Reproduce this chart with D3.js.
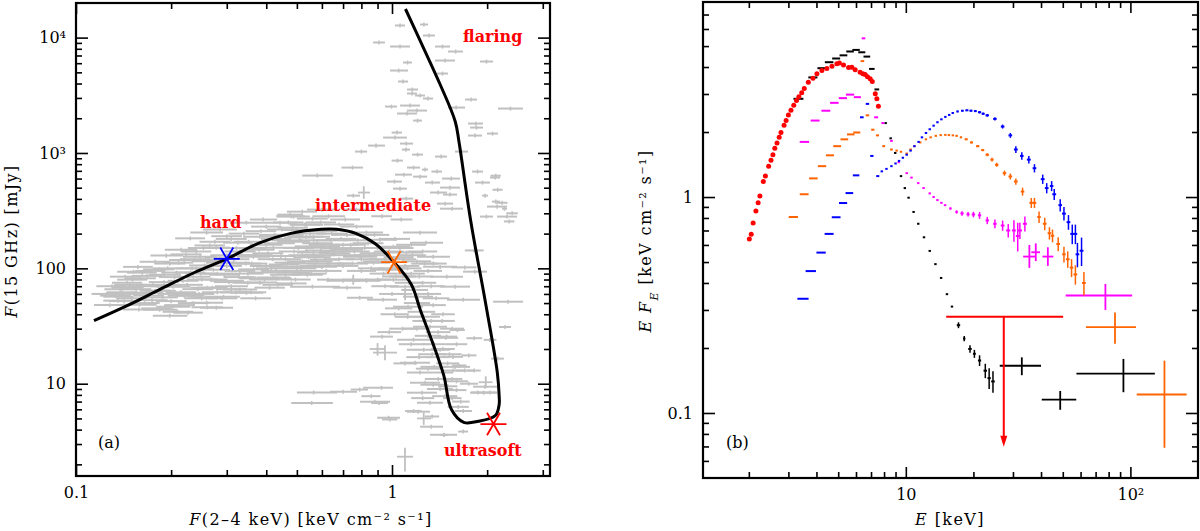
<!DOCTYPE html>
<html>
<head>
<meta charset="utf-8">
<script src="https://cdn.jsdelivr.net/npm/d3@7"></script>
<style>
  body { margin: 0; background: #fff; }
  text { font-family: "DejaVu Serif", serif; }
</style>
</head>
<body>
<div id="chart"></div>
<script>
// ---------- panel (a): radio vs X-ray flux ----------
const aXMajor = [0.1, 1];
const aXLabels = ["0.1", "1"];
const aXMinor = [0.2, 0.3, 0.4, 0.5, 0.6, 0.7, 0.8, 0.9, 2, 3];
const aYMajor = [10, 100, 1000, 10000];
const aYLabels = ["10", "100", "10³", "10⁴"];
const aYMinor = [2, 3, 4, 5, 6, 7, 8, 9, 20, 30, 40, 50, 60, 70, 80, 90,
  200, 300, 400, 500, 600, 700, 800, 900, 2000, 3000, 4000, 5000, 6000, 7000, 8000, 9000];

// track through the states (x = 2-4 keV flux, y = 15 GHz flux)
const trackX = [0.114, 0.144, 0.185, 0.238, 0.300, 0.383, 0.478, 0.597, 0.668, 0.768, 0.883, 1.015,
  1.15, 1.233, 1.341, 1.458, 1.542, 1.686, 1.874, 2.124, 2.183, 2.183, 2.153, 1.981, 1.772, 1.629,
  1.585, 1.419, 1.268, 1.103];
const trackY = [35.2, 47.0, 66.0, 92.5, 121, 167, 201, 218, 218, 201, 164, 113,
  72.9, 42.5, 23.1, 11.8, 5.97, 4.63, 4.72, 5.30, 6.61, 7.84, 12.6, 48.6, 264, 1250,
  1876, 3944, 7762, 17700];

const stateNames = ["hard", "intermediate", "ultrasoft"];
const stateX = [0.30, 1.015, 2.095];
const stateY = [121, 113, 4.47];
const stateColors = ["#0000ff", "#ff6400", "#ff0000"];

// gray monitoring points: [x, y, xlo, xhi]
const grayPts = [
  [0.136,52.5,0.122,0.152],[0.146,68.0,0.130,0.163],[0.151,79.8,0.135,0.168],[0.162,91.8,0.145,0.180],
  [0.157,103,0.141,0.175],[0.178,114,0.159,0.198],[0.193,129,0.172,0.218],[0.215,145,0.191,0.242],
  [0.230,182,0.206,0.256],[0.259,204,0.230,0.292],[0.286,217,0.252,0.323],[0.391,265,0.355,0.433],
  [0.476,292,0.433,0.523],[0.52,310,0.465,0.579],[0.442,249,0.391,0.500],[0.184,43.8,0.163,0.209],
  [0.198,38.9,0.175,0.225],[0.226,41.3,0.203,0.252],[0.259,50.4,0.230,0.292],[0.293,56.8,0.260,0.330],
  [0.330,65.4,0.292,0.374],[0.382,75.2,0.338,0.433],[0.421,83.1,0.374,0.476],[0.488,91.8,0.433,0.550],
  [0.536,103,0.476,0.605],[0.614,119,0.550,0.685],[0.627,79.8,0.579,0.685],[0.167,61.5,0.148,0.189],
  [0.203,69.4,0.180,0.230],[0.235,84.7,0.209,0.266],[0.272,97.4,0.242,0.307],[0.315,112,0.279,0.355],
  [0.364,126,0.323,0.411],[0.421,151,0.374,0.476],[0.488,170,0.433,0.550],[0.564,188,0.500,0.637],
  [0.325,167,0.292,0.363],[0.382,188,0.338,0.433],[0.448,217,0.402,0.500],[0.536,239,0.476,0.605],
  [0.211,112,0.189,0.235],[0.247,126,0.218,0.279],[0.278,151,0.252,0.307],[0.152,93.6,0.135,0.172],
  [0.143,84.7,0.128,0.159],[0.136,56.8,0.122,0.152],[0.159,48.4,0.141,0.180],[0.203,46.5,0.180,0.230],
  [0.278,45.6,0.247,0.314],[0.346,61.5,0.307,0.391],[0.464,103,0.411,0.523],[0.564,137,0.500,0.637],
  [0.637,154,0.592,0.685],[0.488,281,0.433,0.550],[0.60,323,0.538,0.670],[0.346,249,0.307,0.391],
  [0.536,151,0.476,0.605],[0.60,103,0.523,0.670],[0.56,69.4,0.476,0.685],
  [0.175,72,0.155,0.198],[0.19,88,0.17,0.215],[0.24,100,0.215,0.27],[0.26,115,0.232,0.292],
  [0.30,130,0.266,0.338],[0.33,140,0.295,0.37],[0.36,150,0.32,0.40],[0.40,160,0.355,0.45],
  [0.43,180,0.385,0.48],[0.47,195,0.42,0.525],[0.50,215,0.45,0.56],[0.55,200,0.49,0.62],
  [0.58,165,0.52,0.65],[0.52,130,0.47,0.58],[0.46,120,0.41,0.515],[0.40,105,0.355,0.45],
  [0.35,90,0.31,0.39],[0.30,78,0.265,0.34],[0.26,68,0.23,0.29],[0.22,58,0.195,0.25],
  [0.25,55,0.22,0.28],[0.31,70,0.275,0.35],[0.37,82,0.33,0.415],[0.43,95,0.385,0.48],
  [0.50,110,0.445,0.56],[0.57,125,0.51,0.64],[0.65,140,0.59,0.72],[0.70,160,0.63,0.78],
  [0.68,120,0.61,0.76],[0.75,110,0.67,0.84],[0.80,95,0.72,0.89],[0.85,130,0.76,0.95],
  [0.90,150,0.80,1.0],[0.95,120,0.85,1.06],[1.05,125,0.94,1.17],[1.10,105,0.99,1.22],
  [1.15,90,1.04,1.27],[1.20,115,1.08,1.33],[1.25,140,1.12,1.39],[1.30,95,1.17,1.44],
  [1.02,180,0.91,1.14],[0.88,195,0.79,0.98],[0.78,175,0.70,0.87],[1.15,160,1.03,1.28],
  [1.35,110,1.22,1.49],[1.25,75,1.13,1.38],[1.30,60,1.18,1.43],[1.35,48,1.23,1.48],
  [1.33,35,1.21,1.46],[1.40,28,1.28,1.53],[1.36,22,1.25,1.48],[1.45,20,1.33,1.58],
  [1.40,17,1.29,1.52],[1.50,15,1.38,1.63],[1.45,12.5,1.35,1.56],[1.55,11,1.44,1.67],
  [1.50,9.5,1.40,1.61],[1.60,8.8,1.49,1.72],[1.55,7.5,1.45,1.66],[1.65,7.0,1.55,1.76],
  [1.20,30,1.09,1.32],[1.12,38,1.02,1.23],[1.05,45,0.95,1.16],[1.00,60,0.91,1.10],
  [0.95,70,0.86,1.05],[0.90,80,0.82,0.99],[1.08,85,0.98,1.19],[1.45,40,1.33,1.58],
  [1.55,30,1.42,1.69],[1.60,22,1.48,1.73],[1.70,13,1.59,1.82],[1.75,10,1.64,1.87],
  [1.68,5.8,1.58,1.79],
  [0.711,265,0.637,0.792],[0.772,230,0.685,0.871],[0.830,204,0.737,0.937],[0.916,177,0.810,1.037],
  [1.01,154,0.897,1.140],[1.11,137,0.986,1.253],[1.227,204,1.083,1.388],[1.28,167,1.140,1.450],
  [1.35,126,1.200,1.526],[1.42,103,1.253,1.606],[1.49,84.7,1.319,1.678],[0.718,145,0.637,0.810],
  [0.792,126,0.700,0.897],[0.874,112,0.775,0.986],[0.96,97.4,0.852,1.083],[0.754,79.8,0.685,0.834],
  [1.01,79.8,0.897,1.140],[1.10,69.4,0.986,1.227],[1.21,56.8,1.083,1.348],[1.124,46.5,1.007,1.253],
  [1.26,38.1,1.115,1.419],[1.32,31.2,1.166,1.493],[0.937,53.5,0.834,1.037],[0.93,25.6,0.852,1.007],
  [1.17,24.1,1.037,1.319],[1.26,19.7,1.115,1.419],[1.183,15.2,1.06,1.319],[1.227,12.5,1.115,1.348],
  [1.272,10.2,1.140,1.419],[0.926,9.23,0.810,1.007],[0.882,6.98,0.792,0.986],[1.244,8.36,1.115,1.388],
  [1.319,6.84,1.200,1.450],[1.21,5.72,1.115,1.319],[0.975,5.07,0.897,1.060],[1.46,3.61,1.319,1.606],
  [1.583,69.4,1.419,1.766],[1.68,53.5,1.493,1.899],[2.33,51.4,2.088,2.598],[1.83,93.6,1.678,1.998],
  [1.95,8.36,1.766,2.15],[1.97,9.42,1.805,2.15],[2.15,343,1.998,2.312],[2.31,281,2.15,2.487],
  [1.49,25.6,1.388,1.606],[1.42,19.7,1.319,1.526],[1.583,14.0,1.419,1.766],[0.70,8.52,0.637,0.775],
  [1.56,17.1,1.45,1.678],[1.33,4.24,1.227,1.45],
  [1.06,12740,1.022,1.099],[1.262,12990,1.227,1.30],[1.31,10430,1.253,1.368],[0.909,9070,0.871,0.950],
  [1.06,8370,0.986,1.14],[1.445,8370,1.368,1.526],[1.59,7575,1.504,1.678],[1.12,6081,1.083,1.157],
  [1.472,6330,1.368,1.583],[1.99,6204,1.899,2.088],[1.05,5185,0.986,1.124],[1.445,4882,1.388,1.504],
  [1.083,4163,1.045,1.124],[1.16,3548,1.115,1.209],[1.157,3275,1.115,1.200],[1.227,3148,1.183,1.272],
  [1.30,2965,1.253,1.348],[1.78,2905,1.702,1.858],[0.996,2526,0.950,1.037],[1.14,2577,1.06,1.227],
  [1.20,2332,1.115,1.291],[1.115,2197,1.037,1.20],[1.595,2476,1.504,1.702],[2.37,2427,2.165,2.598],
  [1.205,1910,1.166,1.244],[1.84,1799,1.740,1.941],[1.85,1661,1.766,1.941],[1.037,1503,0.997,1.075],
  [1.022,1360,0.937,1.115],[1.83,1416,1.740,1.927],[2.08,1473,1.998,2.165],[1.11,1206,1.06,1.166],
  [0.89,1159,0.84,0.950],[1.107,1070,1.075,1.14],[1.66,1028,1.583,1.740],[0.80,1028,0.764,0.834],
  [1.205,968,1.157,1.253],[1.43,931,1.368,1.493],[1.04,859,0.997,1.083],[0.75,747,0.692,0.81],
  [1.17,747,1.115,1.227],[1.272,718,1.244,1.30],[1.388,690,1.333,1.44],[1.865,690,1.792,1.941],
  [1.09,649,1.022,1.157],[1.227,624,1.166,1.291],[1.54,600,1.44,1.641],[2.12,612,2.042,2.197],
  [1.018,565,0.964,1.075],[1.34,554,1.272,1.419],[1.934,554,1.831,2.042],[1.526,501,1.419,1.641],
  [1.06,491,1.007,1.115],[1.40,454,1.319,1.493],[0.754,427,0.72,0.792],[1.526,436,1.45,1.606],
  [1.97,427,1.927,2.013],[1.11,402,1.06,1.166],[1.472,364,1.388,1.56],[2.13,379,2.073,2.197],
  [1.55,329,1.419,1.678],[2.27,329,2.229,2.312],[1.99,281,1.899,2.088],
  [1.70,102,1.54,1.85],[1.82,143,1.70,1.95],[1.61,29.2,1.52,1.70],[1.82,24.8,1.72,1.93],
  [2.04,24.0,1.95,2.14],[1.75,17.6,1.66,1.85],[1.87,8.4,1.78,1.96],[2.04,8.4,1.95,2.14],
  [1.82,13.0,1.73,1.91],[1.63,14.4,1.55,1.72],[2.16,16.5,2.06,2.26],[0.565,8.4,0.50,0.67],
  [0.557,6.8,0.48,0.65],[0.79,8.9,0.74,0.84],[0.86,7.8,0.80,0.92],[0.91,6.8,0.86,0.97],
  [0.985,4.9,0.93,1.04],[1.17,5.8,1.10,1.24],[1.34,5.2,1.27,1.41],[1.46,3.6,1.42,1.50],
  [1.68,3.85,1.62,1.74],[2.28,31,2.18,2.38],[2.40,300,2.30,2.50],[2.35,255,2.26,2.44],
  [2.23,370,2.14,2.32],[2.16,480,2.08,2.24],[2.13,635,2.05,2.21],
  [0.63,110,0.54,0.75],[0.70,78,0.62,0.79],[0.83,78,0.75,0.92],[0.79,55.6,0.72,0.87],
  [0.72,68,0.65,0.80],[0.595,143,0.53,0.67],[0.535,188,0.47,0.61],[0.63,283,0.56,0.71],
  [0.48,283,0.43,0.53],[0.58,637,0.52,0.65],[0.77,323,0.70,0.85],[0.93,283,0.86,1.00],
  [1.07,265,0.99,1.16],
  // dense hard-state band
  [0.125,60,0.112,0.14],[0.13,70,0.116,0.145],[0.14,62,0.125,0.157],[0.145,75,0.13,0.162],
  [0.15,55,0.134,0.168],[0.155,66,0.139,0.173],[0.16,82,0.143,0.179],[0.165,50,0.148,0.184],
  [0.17,58,0.152,0.19],[0.172,95,0.154,0.192],[0.18,45,0.161,0.201],[0.185,64,0.165,0.207],
  [0.19,76,0.17,0.212],[0.195,100,0.175,0.218],[0.2,52,0.179,0.224],[0.205,84,0.183,0.229],
  [0.21,42,0.188,0.235],[0.215,62,0.192,0.24],[0.22,118,0.197,0.246],[0.225,72,0.201,0.252],
  [0.23,92,0.206,0.257],[0.235,50,0.21,0.263],[0.24,140,0.215,0.268],[0.245,60,0.219,0.274],
  [0.25,80,0.224,0.28],[0.255,106,0.228,0.285],[0.26,46,0.232,0.291],[0.265,158,0.237,0.296],
  [0.27,68,0.242,0.302],[0.28,90,0.25,0.313],[0.285,124,0.255,0.319],[0.29,55,0.259,0.324],
  [0.3,105,0.268,0.335],[0.305,76,0.273,0.341],[0.31,180,0.277,0.347],[0.32,62,0.286,0.358],
  [0.33,95,0.295,0.369],[0.335,130,0.3,0.375],[0.34,200,0.304,0.38],[0.35,75,0.313,0.391],
  [0.36,110,0.322,0.403],[0.37,55,0.331,0.414],[0.38,145,0.34,0.425],[0.39,92,0.349,0.436],
  [0.4,230,0.358,0.447],[0.41,68,0.367,0.458],[0.42,120,0.376,0.47],[0.43,82,0.385,0.481],
  [0.44,165,0.394,0.492],[0.455,108,0.407,0.509],[0.47,250,0.42,0.525],[0.48,74,0.43,0.537],
  [0.49,140,0.438,0.548],[0.5,95,0.447,0.559],[0.51,185,0.456,0.57],[0.52,115,0.465,0.581],
  [0.54,88,0.483,0.604],[0.55,155,0.492,0.615],[0.56,270,0.5,0.626],[0.57,105,0.51,0.637],
  [0.59,130,0.528,0.66],[0.6,210,0.537,0.671],[0.62,95,0.555,0.693],[0.64,175,0.572,0.715],
  [0.66,135,0.59,0.738],[0.68,240,0.608,0.76],[0.7,105,0.626,0.783],[0.72,195,0.644,0.805],
  [0.128,48,0.114,0.143],[0.133,58,0.119,0.149],[0.138,66,0.123,0.155],[0.142,52,0.127,0.159],
  [0.148,72,0.132,0.166],[0.153,60,0.137,0.171],[0.158,44,0.141,0.177],[0.163,70,0.146,0.182],
  [0.168,86,0.15,0.188],[0.174,53,0.155,0.195],[0.178,64,0.159,0.199],[0.183,98,0.163,0.205],
  [0.188,56,0.168,0.21],[0.193,70,0.172,0.216],[0.198,110,0.177,0.222],[0.203,60,0.181,0.227],
  [0.208,92,0.186,0.233],[0.213,48,0.19,0.238],[0.218,78,0.195,0.244],[0.223,132,0.199,0.25],
  [0.228,58,0.204,0.255],[0.233,100,0.208,0.261],[0.238,120,0.213,0.266],[0.243,66,0.217,0.272],
  [0.248,90,0.222,0.278],[0.253,150,0.226,0.283],[0.258,56,0.231,0.289],[0.263,118,0.235,0.294],
  [0.268,80,0.24,0.3],[0.275,170,0.246,0.308],[0.28,62,0.25,0.313],[0.288,112,0.258,0.322],
  [0.295,88,0.264,0.33],[0.3,190,0.268,0.335],[0.31,66,0.277,0.347],[0.316,120,0.282,0.354],
  [0.322,150,0.288,0.36],[0.328,84,0.293,0.367],[0.345,110,0.308,0.386],[0.352,170,0.315,0.394],
  [0.358,62,0.32,0.4],[0.365,98,0.326,0.408],[0.375,130,0.335,0.419],[0.385,210,0.344,0.43],
  [0.395,80,0.353,0.442],[0.405,135,0.362,0.453],[0.415,100,0.371,0.464],[0.425,195,0.38,0.475],
  [0.435,72,0.389,0.486],[0.445,128,0.398,0.497],[0.46,88,0.411,0.514],[0.465,175,0.416,0.52],
  [0.475,112,0.425,0.531],[0.485,225,0.434,0.542],[0.495,80,0.443,0.553],[0.505,150,0.452,0.565],
  [0.515,100,0.46,0.576],[0.53,240,0.474,0.592],[0.545,125,0.487,0.609],[0.555,90,0.496,0.62],
  [0.565,175,0.505,0.632],[0.58,115,0.519,0.648],[0.595,250,0.532,0.665],[0.61,160,0.545,0.682],
  [0.625,110,0.559,0.699],[0.645,200,0.577,0.721],[0.665,150,0.595,0.743],[0.69,180,0.617,0.771],
  [0.71,130,0.635,0.794],[0.74,160,0.66,0.83],[0.76,140,0.68,0.85],[0.8,120,0.715,0.895],
  [0.84,165,0.75,0.94],[0.88,135,0.79,0.98],
  // dense region between the two branches
  [0.82,150,0.74,0.91],[0.86,100,0.78,0.95],[0.9,115,0.81,1.0],[0.94,90,0.85,1.04],
  [0.98,140,0.88,1.09],[1.0,100,0.9,1.11],[1.03,85,0.93,1.14],[1.06,150,0.96,1.17],
  [1.08,120,0.98,1.19],[1.12,100,1.01,1.24],[1.13,75,1.02,1.25],[1.16,130,1.05,1.28],
  [1.18,65,1.07,1.3],[1.2,50,1.09,1.32],[1.22,85,1.1,1.35],[1.24,42,1.12,1.37],
  [1.27,110,1.15,1.4],[1.28,35,1.16,1.41],[1.3,26,1.18,1.43],[1.33,70,1.2,1.47],
  [1.34,18,1.21,1.48],[1.36,14,1.23,1.5],[1.38,55,1.25,1.52],[1.4,11,1.27,1.54],
  [1.42,9,1.29,1.56],[1.44,35,1.31,1.58],[1.47,7.8,1.34,1.61],[1.48,25,1.35,1.62],
  [1.52,18,1.39,1.66],[1.56,13,1.43,1.7],[1.6,10.5,1.47,1.74],[1.62,6.3,1.5,1.75],
  [1.08,30,0.98,1.19],[1.02,40,0.92,1.13],[1.15,22,1.05,1.27],[1.22,17,1.11,1.34],
  [1.3,13.5,1.19,1.42],[1.35,9.8,1.23,1.48],[0.98,28,0.9,1.07],[1.1,15,1.01,1.2],
  [1.25,7.5,1.15,1.36]
];
const grayYErr = 0.04;   // typical relative radio error
// gray points with visible radio errors: [x, y, xlo, xhi, ylo, yhi]
const grayCrosses = [
  [1.099, 2.33, 1.037, 1.166, 1.73, 2.79], [0.814, 454, 0.78, 0.852, 400, 515],
  [0.95, 18.6, 0.871, 1.037, 16.0, 21.5], [0.754, 79.8, 0.70, 0.81, 72, 88],
  [1.98, 10.3, 1.88, 2.08, 9.2, 11.6], [1.26, 5.0, 1.2, 1.33, 4.4, 5.6],
  [1.10, 60, 1.04, 1.16, 53, 67], [0.90, 20, 0.85, 0.95, 17.5, 22.5]
];

// ---------- panel (b): spectra E*F_E ----------
const bXMajor = [10, 100];
const bXLabels = ["10", "10²"];
const bXMinor = [2, 3, 4, 5, 6, 7, 8, 9, 20, 30, 40, 50, 60, 70, 80, 90];
const bYMajor = [0.1, 1];
const bYLabels = ["0.1", "1"];
const bYMinor = [0.06, 0.07, 0.08, 0.09, 0.2, 0.3, 0.4, 0.5, 0.6, 0.7, 0.8, 0.9, 2, 3, 4, 5, 6, 7];

// ultrasoft spectrum (filled dots): energy, flux
const redE = [2.01, 2.05, 2.09, 2.15, 2.20, 2.24, 2.32, 2.37, 2.45, 2.51, 2.56, 2.61, 2.67, 2.73, 2.78, 2.87,
  2.93, 3.00, 3.08, 3.17, 3.26, 3.34, 3.44, 3.53, 3.68, 3.86, 4.02, 4.23, 4.45, 4.69, 4.93, 5.06, 5.28,
  5.56, 5.75, 5.95, 6.26, 6.44, 6.59, 6.75, 6.94, 7.09, 7.31, 7.43, 7.55];
const redF = [0.639, 0.672, 0.758, 0.862, 0.94, 1.01, 1.18, 1.25, 1.39, 1.48, 1.57, 1.68, 1.78, 1.89, 1.99, 2.15,
  2.26, 2.40, 2.52, 2.66, 2.80, 2.91, 3.04, 3.18, 3.40, 3.55, 3.72, 3.85, 3.94, 4.03, 4.14, 4.18, 4.09,
  3.98, 3.99, 3.88, 3.78, 3.72, 3.69, 3.61, 3.53, 3.43, 3.01, 2.85, 2.63];
// upper limit: [E, F, Elo, Ehi, Fbottom]
const redLimit = [27.3, 0.279, 15.13, 50.2, 0.0697];

// other spectra rows: [E, F, dE, dF]
const blackPts = [
  [3.33,2.85,0.17,0],[3.86,3.58,0.18,0],[4.23,3.95,0.19,0],[4.56,4.21,0.2,0],[4.90,4.38,0.2,0],
  [5.28,4.53,0.21,0],[5.65,4.72,0.22,0],[6.01,4.80,0.23,0],[6.37,4.68,0.23,0],[6.71,4.47,0.23,0],
  [7.06,3.92,0.2,0],[7.43,3.15,0.18,0],[8.13,2.20,0.1,0],[8.56,1.87,0.1,0],[8.97,1.60,0.1,0],
  [9.52,1.25,0.1,0],[9.90,1.10,0.1,0],[10.29,0.993,0.11,0],[10.83,0.853,0.11,0],[11.36,0.752,0.12,0],
  [12.05,0.651,0.12,0],[12.78,0.563,0.13,0],[13.55,0.489,0.14,0],[14.36,0.422,0.15,0],[15.25,0.355,0.16,0],
  [16.05,0.311,0.17,0],[17.16,0.255,0.3,0.008],[18.20,0.221,0.2,0.006],[19.31,0.198,0.35,0.008],
  [20.2,0.188,0.3,0.008],[21.3,0.175,0.35,0.01],[22.59,0.157,0.4,0.012],[23.5,0.145,0.4,0.016],
  [24.44,0.14,0.45,0.016]
];
const magentaPts = [
  [3.54,1.80,0.17,0],[3.95,2.26,0.18,0],[4.41,2.51,0.2,0],[4.81,2.73,0.21,0],[5.25,2.87,0.22,0],
  [5.65,2.98,0.24,0],[6.09,2.90,0.22,0],[6.48,5.43,0.12,0],[7.38,2.34,0.15,0],[7.9,2.2,0.12,0],
  [8.63,1.82,0.12,0],[9.3,1.45,0.1,0],[10.09,1.29,0.12,0],[10.6,1.23,0.12,0],[11.36,1.16,0.13,0],
  [12.0,1.10,0.13,0],[12.78,1.04,0.14,0],[13.3,1.0,0.15,0],[13.83,0.968,0.15,0],[14.4,0.94,0.16,0],
  [14.95,0.917,0.16,0],[15.8,0.885,0.18,0.01],[16.83,0.853,0.2,0.015],[17.8,0.84,0.3,0.02],
  [18.93,0.832,0.3,0.02],[20.0,0.83,0.35,0.025],[21.3,0.823,0.35,0.03],[23.05,0.779,0.4,0.03],
  [24.93,0.752,0.45,0.035],[26.98,0.738,0.5,0.04],[28.58,0.70,0.6,0.05],[30.3,0.70,0.6,0.08],
  [31.5,0.66,0.6,0.1],[32.2,0.70,0.7,0.06],[33.9,0.752,0.7,0.06]
];
const orangePts = [
  [3.16,0.808,0.15,0],[3.53,1.03,0.16,0],[3.88,1.22,0.17,0],[4.24,1.39,0.18,0],[4.60,1.56,0.19,0],
  [4.95,1.72,0.2,0],[5.33,1.85,0.21,0],[5.69,1.95,0.22,0],[6.05,1.99,0.22,0],[6.41,4.26,0.12,0],
  [6.75,2.39,0.12,0],[7.13,2.05,0.12,0],[7.48,1.93,0.12,0],[7.97,1.72,0.12,0],[8.63,1.66,0.12,0],
  [9.1,1.64,0.1,0],[9.52,1.62,0.1,0],[10.09,1.59,0.1,0],[10.5,1.66,0.12,0],[10.92,1.72,0.12,0],
  [11.6,1.79,0.13,0],[12.29,1.85,0.14,0],[12.9,1.89,0.15,0],[13.6,1.92,0.15,0],[14.3,1.935,0.16,0],
  [15.0,1.94,0.17,0],[15.56,1.935,0.18,0],[16.2,1.93,0.18,0],[16.83,1.92,0.2,0.01],[17.6,1.89,0.2,0.01],
  [18.57,1.85,0.3,0.015],[19.6,1.79,0.3,0.02],[20.9,1.72,0.35,0.02],[22.0,1.65,0.35,0.02],
  [23.05,1.57,0.4,0.025],[24.2,1.49,0.4,0.03],[25.4,1.41,0.45,0.03],[27.5,1.29,0.5,0.035],
  [29.2,1.245,0.55,0.04],[30.9,1.18,0.6,0.04],[33.1,1.06,0.6,0.045],[36.2,0.94,0.7,0.05],
  [37.4,0.94,0.7,0.05],[39.2,0.808,0.7,0.05],[41.55,0.752,0.8,0.05],[43.6,0.68,0.8,0.045],
  [45.0,0.662,0.8,0.045],[47.7,0.606,0.9,0.045],[50.6,0.543,0.9,0.045],[52.6,0.515,1.0,0.045],
  [54.7,0.471,1.0,0.045],[56.9,0.438,1.1,0.045],[62.1,0.400,1.2,0.05]
];
const bluePts = [
  [3.49,0.338,0.2,0],[3.78,0.454,0.2,0],[4.20,0.553,0.2,0],[4.56,0.675,0.21,0],[4.90,0.806,0.22,0],
  [5.26,0.938,0.22,0],[5.61,1.043,0.22,0],[6.01,1.26,0.2,0],[6.37,2.34,0.12,0],[6.75,2.70,0.12,0],
  [7.06,1.55,0.12,0],[7.5,1.25,0.12,0],[7.82,1.315,0.1,0],[8.2,1.35,0.1,0],[8.63,1.39,0.1,0],
  [9.0,1.43,0.1,0],[9.33,1.47,0.1,0],[9.7,1.52,0.1,0],[10.09,1.57,0.11,0],[10.5,1.64,0.11,0],
  [10.92,1.72,0.12,0],[11.4,1.80,0.12,0],[11.8,1.89,0.13,0],[12.3,1.98,0.13,0],[12.78,2.06,0.14,0],
  [13.3,2.14,0.14,0],[13.83,2.22,0.15,0],[14.4,2.29,0.15,0],[15.0,2.35,0.16,0],[15.6,2.40,0.17,0],
  [16.18,2.45,0.18,0],[17.0,2.49,0.2,0.02],[17.86,2.51,0.25,0.02],[18.7,2.52,0.3,0.02],
  [19.5,2.51,0.3,0.025],[20.4,2.50,0.3,0.025],[21.3,2.47,0.35,0.03],[22.1,2.43,0.35,0.03],
  [23.05,2.39,0.4,0.035],[24.93,2.30,0.45,0.04],[26.98,2.12,0.5,0.045],[29.2,1.93,0.55,0.05],
  [30.9,1.66,0.6,0.06],[32.85,1.55,0.6,0.06],[35.3,1.49,0.7,0.06],[37.4,1.36,0.7,0.06],
  [40.7,1.21,0.8,0.06],[42.4,1.10,0.8,0.06],[44.6,1.125,0.8,0.06],[45.8,1.03,0.9,0.06],
  [48.7,0.917,0.9,0.06],[50.6,0.838,1.0,0.06],[53.0,0.765,1.0,0.06],[55.1,0.675,1.1,0.07],
  [56.9,0.675,1.1,0.07],[58.1,0.543,1.1,0.07],[60.6,0.564,1.2,0.085]
];
// wide bins: [E, F, Elo, Ehi, Flo, Fhi]
const blackBig = [[32.85,0.1655,26.2,40.0,0.1496,0.181],[48.7,0.1153,40.3,57.4,0.1035,0.1264],
  [93.1,0.152,57.5,128.5,0.1248,0.178]];
const magentaBig = [[35.5,0.53,33.3,37.6,0.47,0.60],[37.9,0.555,36.2,39.6,0.505,0.61],
  [42.9,0.53,40.6,45.4,0.48,0.585],[77.4,0.350,51.5,101.8,0.300,0.396]];
const orangeBig = [[85.4,0.250,63.4,105.9,0.209,0.292],[141.8,0.1218,106.7,178,0.069,0.1747]];

// ---------- drawing ----------
const W = 1200, H = 531;
const svg = d3.select("#chart").append("svg").attr("width", W).attr("height", H);

const xa = d3.scaleLog().domain([0.1, 3.162]).range([76, 550]);
const ya = d3.scaleLog().domain([1.585, 19953]).range([476, 3]);
const xb = d3.scaleLog().domain([1.25, 200]).range([703, 1198]);
const yb = d3.scaleLog().domain([0.05, 8]).range([478, 2]);

function drawAxes(x, y, xMaj, xLab, xMin, yMaj, yLab, yMin) {
  const [x0, x1] = x.range(), [y0, y1] = y.range();
  const g = svg.append("g");
  const fmt = (labels, majors) => d => labels[majors.indexOf(d)];
  const styleAxis = sel => {
    sel.select(".domain").remove();
    sel.selectAll("line").attr("stroke", "#000").attr("stroke-width", 1.6);
    sel.selectAll("text").attr("font-size", 16).attr("fill", "#000")
      .style("font-family", '"DejaVu Serif", serif');
  };
  g.append("g").attr("transform", `translate(0,${y0})`)
    .call(d3.axisBottom(x).tickValues(xMaj).tickSize(-11).tickPadding(11).tickFormat(fmt(xLab, xMaj))).call(styleAxis);
  g.append("g").attr("transform", `translate(0,${y0})`)
    .call(d3.axisBottom(x).tickValues(xMin).tickSize(-6).tickFormat("")).call(styleAxis);
  g.append("g").attr("transform", `translate(0,${y1})`)
    .call(d3.axisTop(x).tickValues(xMaj).tickSize(-11).tickFormat("")).call(styleAxis);
  g.append("g").attr("transform", `translate(0,${y1})`)
    .call(d3.axisTop(x).tickValues(xMin).tickSize(-6).tickFormat("")).call(styleAxis);
  g.append("g").attr("transform", `translate(${x0},0)`)
    .call(d3.axisLeft(y).tickValues(yMaj).tickSize(-12).tickPadding(10).tickFormat(fmt(yLab, yMaj))).call(styleAxis);
  g.append("g").attr("transform", `translate(${x0},0)`)
    .call(d3.axisLeft(y).tickValues(yMin).tickSize(-6).tickFormat("")).call(styleAxis);
  g.append("g").attr("transform", `translate(${x1},0)`)
    .call(d3.axisRight(y).tickValues(yMaj).tickSize(-12).tickFormat("")).call(styleAxis);
  g.append("g").attr("transform", `translate(${x1},0)`)
    .call(d3.axisRight(y).tickValues(yMin).tickSize(-6).tickFormat("")).call(styleAxis);
  g.append("rect").attr("x", x0).attr("y", y1).attr("width", x1 - x0).attr("height", y0 - y1)
    .attr("fill", "none").attr("stroke", "#000").attr("stroke-width", 2.2);
}

// ----- panel (a) -----
const ga = svg.append("g");
const gray = "#c0c0c0";
ga.selectAll("line.gx").data(grayPts).join("line").attr("class", "gx")
  .attr("x1", d => xa(d[2])).attr("x2", d => xa(d[3]))
  .attr("y1", d => ya(d[1])).attr("y2", d => ya(d[1]))
  .attr("stroke", gray).attr("stroke-width", 2);
ga.selectAll("line.gy").data(grayPts).join("line").attr("class", "gy")
  .attr("x1", d => xa(d[0])).attr("x2", d => xa(d[0]))
  .attr("y1", d => ya(d[1] * (1 - grayYErr))).attr("y2", d => ya(d[1] * (1 + grayYErr)))
  .attr("stroke", gray).attr("stroke-width", 1.5);
ga.selectAll("g.gc").data(grayCrosses).join("g").attr("class", "gc")
  .each(function (d) {
    const s = d3.select(this);
    s.append("line").attr("x1", xa(d[2])).attr("x2", xa(d[3])).attr("y1", ya(d[1])).attr("y2", ya(d[1]));
    s.append("line").attr("x1", xa(d[0])).attr("x2", xa(d[0])).attr("y1", ya(d[4])).attr("y2", ya(d[5]));
  })
  .attr("stroke", gray).attr("stroke-width", 1.8);

const track = trackX.map((v, i) => [v, trackY[i]]);
ga.append("path").datum(track)
  .attr("d", d3.line().x(d => xa(d[0])).y(d => ya(d[1])).curve(d3.curveCatmullRom.alpha(0.5)))
  .attr("fill", "none").attr("stroke", "#000").attr("stroke-width", 3).attr("stroke-linejoin", "round");

// asterisks marking the three states
const starR = 13;
stateNames.forEach((name, i) => {
  const cx = xa(stateX[i]), cy = ya(stateY[i]);
  const p = d3.path();
  [0, 60, 120].forEach(a => {
    const r = a * Math.PI / 180;
    p.moveTo(cx - starR * Math.cos(r), cy - starR * Math.sin(r));
    p.lineTo(cx + starR * Math.cos(r), cy + starR * Math.sin(r));
  });
  ga.append("path").attr("d", p.toString()).attr("stroke", stateColors[i]).attr("stroke-width", 1.8).attr("fill", "none");
});

// state labels (anchored in data coordinates)
const stateLabels = [
  { t: "hard", x: 0.287, y: 225 },
  { t: "intermediate", x: 0.871, y: 313 },
  { t: "flaring", x: 2.083, y: 9160 },
  { t: "ultrasoft", x: 1.938, y: 2.37 }
];
ga.selectAll("text.state").data(stateLabels).join("text").attr("class", "state")
  .attr("x", d => xa(d.x)).attr("y", d => ya(d.y))
  .attr("text-anchor", "middle").attr("font-size", 16).attr("font-weight", "bold")
  .attr("fill", "#ff0000").text(d => d.t);

drawAxes(xa, ya, aXMajor, aXLabels, aXMinor, aYMajor, aYLabels, aYMinor);

svg.append("text").attr("x", 98).attr("y", 448).attr("font-size", 16).text("(a)");

const titleStyle = t => t.attr("font-size", 16).attr("letter-spacing", 1.4).attr("text-anchor", "middle");
const tA = svg.append("text").attr("x", 311).attr("y", 525).call(titleStyle);
tA.append("tspan").attr("font-style", "italic").text("F");
tA.append("tspan").text("(2–4 keV) [keV cm⁻² s⁻¹]");

const tAy = svg.append("text").attr("transform", "translate(17,241) rotate(-90)").call(titleStyle);
tAy.append("tspan").attr("font-style", "italic").text("F");
tAy.append("tspan").text("(15 GHz) [mJy]");

// ----- panel (b) -----
const gb = svg.append("g");

function drawRows(rows, color, sw) {
  const s = gb.append("g").attr("stroke", color).attr("stroke-width", sw);
  s.selectAll("line.h").data(rows).join("line").attr("class", "h")
    .attr("x1", d => Math.min(xb(d[0] - d[2]), xb(d[0]) - 1.2))
    .attr("x2", d => Math.max(xb(d[0] + d[2]), xb(d[0]) + 1.2))
    .attr("y1", d => yb(d[1])).attr("y2", d => yb(d[1]));
  s.selectAll("line.v").data(rows.filter(d => d[3] > 0)).join("line").attr("class", "v")
    .attr("x1", d => xb(d[0])).attr("x2", d => xb(d[0]))
    .attr("y1", d => yb(d[1] - d[3])).attr("y2", d => yb(d[1] + d[3]))
    .attr("stroke-width", 1.5);
}
function drawBig(rows, color) {
  const s = gb.append("g").attr("stroke", color).attr("stroke-width", 1.8);
  s.selectAll("line.h").data(rows).join("line").attr("class", "h")
    .attr("x1", d => xb(d[2])).attr("x2", d => xb(d[3]))
    .attr("y1", d => yb(d[1])).attr("y2", d => yb(d[1]));
  s.selectAll("line.v").data(rows).join("line").attr("class", "v")
    .attr("x1", d => xb(d[0])).attr("x2", d => xb(d[0]))
    .attr("y1", d => yb(d[4])).attr("y2", d => yb(d[5]));
}

drawRows(blackPts, "#000000", 2);
drawBig(blackBig, "#000000");
drawRows(magentaPts, "#ff00ff", 2);
drawBig(magentaBig, "#ff00ff");
drawRows(orangePts, "#ff6400", 2);
drawBig(orangeBig, "#ff6400");
drawRows(bluePts, "#0000ff", 2);

gb.selectAll("circle.red").data(redE).join("circle").attr("class", "red")
  .attr("cx", d => xb(d)).attr("cy", (d, i) => yb(redF[i])).attr("r", 2.5).attr("fill", "#ff0000");

// upper limit with arrow
const [ulE, ulF, ulLo, ulHi, ulEnd] = redLimit;
gb.append("line").attr("x1", xb(ulLo)).attr("x2", xb(ulHi)).attr("y1", yb(ulF)).attr("y2", yb(ulF))
  .attr("stroke", "#ff0000").attr("stroke-width", 2);
gb.append("line").attr("x1", xb(ulE)).attr("x2", xb(ulE)).attr("y1", yb(ulF)).attr("y2", yb(ulEnd) - 6)
  .attr("stroke", "#ff0000").attr("stroke-width", 2);
gb.append("path")
  .attr("d", `M${xb(ulE) - 3.5},${yb(ulEnd) - 11} L${xb(ulE) + 3.5},${yb(ulEnd) - 11} L${xb(ulE)},${yb(ulEnd)} Z`)
  .attr("fill", "#ff0000");

drawAxes(xb, yb, bXMajor, bXLabels, bXMinor, bYMajor, bYLabels, bYMinor);

svg.append("text").attr("x", 726).attr("y", 448).attr("font-size", 16).text("(b)");

const tB = svg.append("text").attr("x", 950).attr("y", 525).call(titleStyle);
tB.append("tspan").attr("font-style", "italic").text("E");
tB.append("tspan").text(" [keV]");

const tBy = svg.append("text").attr("transform", "translate(651,241) rotate(-90)").call(titleStyle);
tBy.append("tspan").attr("font-style", "italic").text("E F");
tBy.append("tspan").attr("font-style", "italic").attr("font-size", 11).attr("baseline-shift", "sub").text("E");
tBy.append("tspan").text(" [keV cm⁻² s⁻¹]");
</script>
</body>
</html>
